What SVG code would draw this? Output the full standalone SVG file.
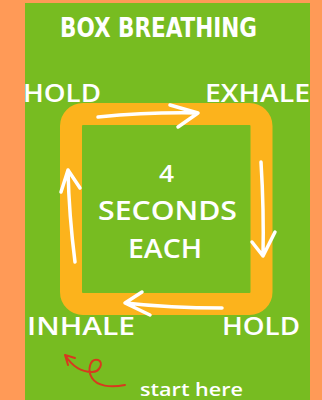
<svg xmlns="http://www.w3.org/2000/svg" width="322" height="400" viewBox="0 0 322 400">
<defs>
<style>
.lbl{font-family:"Open Sans","DejaVu Sans",sans-serif;font-weight:600;fill:#ffffff;}
.title{font-family:"DejaVu Sans Condensed","DejaVu Sans",sans-serif;font-stretch:condensed;font-weight:bold;fill:#ffffff;}
.arr{fill:none;stroke:#ffffff;stroke-width:3.5;stroke-linecap:round;stroke-linejoin:round;}
.red{fill:none;stroke:#d8391e;stroke-width:2;stroke-linecap:round;stroke-linejoin:round;}
</style>
</defs>
<rect x="0" y="0" width="322" height="400" fill="#ff9a57"/>
<rect x="25" y="3" width="285" height="397" fill="#77bc21"/>
<g id="box">
<rect x="71" y="114" width="190.5" height="190" rx="12" ry="12" fill="none" stroke="#fcb31c" stroke-width="22"/>
</g>
<g id="title"><text class="title" x="60" y="37" font-size="26" textLength="197" lengthAdjust="spacingAndGlyphs">BOX BREATHING</text></g>
<g id="hold-top"><text class="lbl" x="23" y="102" font-size="26" textLength="78" lengthAdjust="spacingAndGlyphs">HOLD</text></g>
<g id="exhale"><text class="lbl" x="205" y="102" font-size="26" textLength="105" lengthAdjust="spacingAndGlyphs">EXHALE</text></g>
<g id="center">
<text class="lbl" x="159" y="182" font-size="23" textLength="15" lengthAdjust="spacingAndGlyphs">4</text>
<text class="lbl" x="98" y="220" font-size="27" textLength="139" lengthAdjust="spacingAndGlyphs">SECONDS</text>
<text class="lbl" x="128" y="258" font-size="27" textLength="74" lengthAdjust="spacingAndGlyphs">EACH</text>
</g>
<g id="inhale"><text class="lbl" x="27" y="335" font-size="26" textLength="108" lengthAdjust="spacingAndGlyphs">INHALE</text></g>
<g id="hold-bottom"><text class="lbl" x="222" y="335" font-size="26" textLength="78" lengthAdjust="spacingAndGlyphs">HOLD</text></g>
<g id="start"><text class="lbl" x="140" y="396" font-size="18" font-weight="bold" textLength="103" lengthAdjust="spacingAndGlyphs">start here</text></g>
<g id="connectors">
<path class="arr" d="M98,117 Q150,112 198,113 M170,105 L198,113 L178,127"/>
<path class="arr" d="M261,162 Q264,210 263,256 M252,242 L263,256 L275,232"/>
<path class="arr" d="M222,308 Q170,308 125,303 M142,292 L125,303 L150,315"/>
<path class="arr" d="M75,262 Q69,215 68,170 M61,192 L68,170 L80,188"/>
<path class="red" d="M65,355 C72,366 80,372 92,372 C100,372 104,362 98,360 C90,358 87,370 92,378 C97,386 110,388 125,385 M68,365 L65,355 L75,358"/>
</g>
</svg>
